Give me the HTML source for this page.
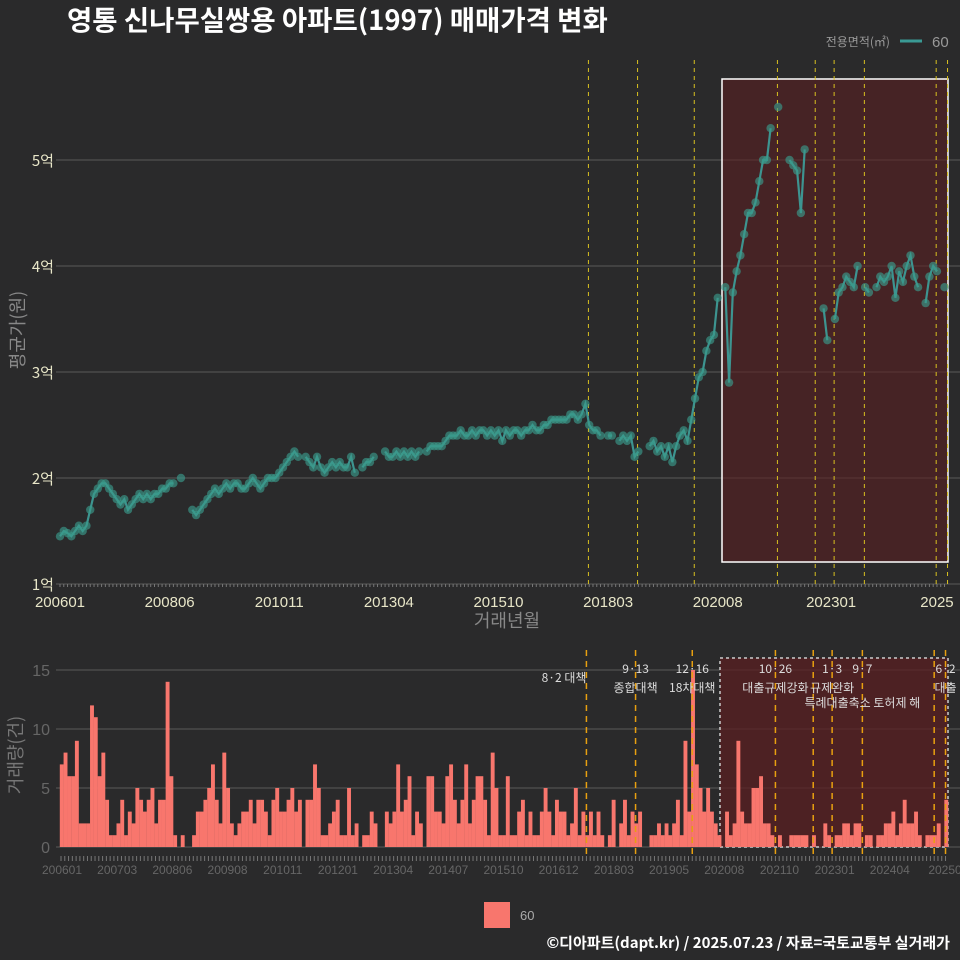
<!DOCTYPE html>
<html><head><meta charset="utf-8">
<style>
body{margin:0;background:#2a2a2b;width:960px;height:960px;overflow:hidden;font-family:"Liberation Sans","Noto Sans CJK KR",sans-serif}
svg{display:block}
</style></head>
<body>
<svg id="c" width="960" height="960" xmlns="http://www.w3.org/2000/svg">
<rect width="960" height="960" fill="#2a2a2b"/>
<text x="67" y="30" fill="#ffffff" font-size="27.5" font-weight="bold" font-family="Noto Sans CJK KR, sans-serif">영통 신나무실쌍용 아파트(1997) 매매가격 변화</text>
<g>
<text x="890" y="46" fill="#999" font-size="12" text-anchor="end" font-family="Noto Sans CJK KR, sans-serif">전용면적(㎡)</text>
<line x1="900" y1="41" x2="922" y2="41" stroke="#3a9a94" stroke-width="3"/>
<text x="932" y="47" fill="#999" font-size="15">60</text>
</g>
<g id="topG"></g>
<g id="botG"></g>
<g>
<rect x="484" y="902" width="26" height="26" fill="#f8766d"/>
<text x="520" y="920" fill="#aaa" font-size="13">60</text>
</g>
<text x="950" y="948" fill="#fff" font-size="15" font-weight="bold" text-anchor="end" font-family="Noto Sans CJK KR, sans-serif">©디아파트(dapt.kr) / 2025.07.23 / 자료=국토교통부 실거래가</text>
</svg>
<script>
const volumes=[
7,8,6,6,9,2,2,2,12,11,6,8,
4,1,1,2,4,1,3,2,5,4,3,4,
5,2,4,4,14,6,1,0,1,0,0,1,
3,3,4,5,7,4,2,8,5,2,1,2,
3,3,4,2,4,4,3,1,4,5,3,3,
4,5,3,4,0,4,4,7,5,1,1,2,
3,4,1,1,5,1,2,0,1,1,3,2,
0,0,3,2,3,7,3,4,6,1,3,2,
0,6,6,3,3,2,6,7,4,2,4,7,
2,4,6,6,4,1,8,5,1,1,6,1,
1,3,4,1,3,1,1,3,5,3,1,4,
3,3,1,2,5,1,3,1,3,1,3,1,
0,1,4,0,2,4,1,3,2,3,0,0,
1,1,2,1,2,1,2,4,1,9,3,15,
7,5,3,5,3,2,1,0,3,1,2,9,
3,2,2,5,5,6,2,2,1,0,1,0,
0,1,1,1,1,1,0,1,0,0,2,1,
0,1,1,2,2,1,2,2,0,1,1,0,
1,1,2,2,3,1,2,4,2,2,3,1,
0,1,1,1,2,0,4];
const prices=[
1.45,1.5,1.48,1.45,1.5,1.55,1.5,1.55,1.7,1.85,1.9,1.95,
1.95,1.9,1.85,1.8,1.75,1.8,1.7,1.75,1.8,1.85,1.8,1.85,
1.8,1.85,1.85,1.9,1.9,1.95,1.95,null,2.0,null,null,1.7,
1.65,1.7,1.75,1.8,1.85,1.9,1.85,1.9,1.95,1.9,1.95,1.95,
1.9,1.9,1.95,2.0,1.95,1.9,1.95,2.0,2.0,2.0,2.05,2.1,
2.15,2.2,2.25,2.2,null,2.2,2.15,2.1,2.2,2.1,2.05,2.1,
2.15,2.1,2.15,2.1,2.1,2.2,2.05,null,2.1,2.15,2.15,2.2,
null,null,2.25,2.2,2.2,2.25,2.2,2.25,2.2,2.25,2.2,2.25,
null,2.25,2.3,2.3,2.3,2.3,2.35,2.4,2.4,2.4,2.45,2.4,
2.4,2.45,2.4,2.45,2.45,2.4,2.45,2.4,2.45,2.35,2.45,2.4,
2.45,2.45,2.4,2.45,2.45,2.5,2.45,2.45,2.5,2.5,2.55,2.55,
2.55,2.55,2.55,2.6,2.6,2.55,2.6,2.7,2.5,2.45,2.45,2.4,
null,2.4,2.4,null,2.35,2.4,2.35,2.4,2.2,2.25,null,null,
2.3,2.35,2.25,2.3,2.2,2.3,2.15,2.3,2.4,2.45,2.35,2.55,
2.75,2.95,3.0,3.2,3.3,3.35,3.7,null,3.8,2.9,3.75,3.95,
4.1,4.3,4.5,4.5,4.6,4.8,5.0,5.0,5.3,null,5.5,null,
null,5.0,4.95,4.9,4.5,5.1,null,null,null,null,3.6,3.3,
null,3.5,3.75,3.8,3.9,3.85,3.8,4.0,null,3.8,3.75,null,
3.8,3.9,3.85,3.9,4.0,3.7,3.95,3.85,4.0,4.1,3.9,3.8,
null,3.65,3.9,4.0,3.95,null,3.8];
const topTicks=["200601","200806","201011","201304","201510","201803","202008","202301","2025"];
const topTickIdx=[0,29,58,87,116,145,174,204,232];
const botTicks=["200601","200703","200806","200908","201011","201201","201304","201407","201510","201612","201803","201905","202008","202110","202301","202404","20250"];
const yTicksTop=[1,2,3,4,5];
const yTicksBot=[0,5,10,15];
const policyIdx=[139,152,167,189,199,204,212,231,234];
const policyTop=["8·2 대책","9·13","12·16","10·26","","1·3","9·7","","6·2"];
const policyBot=["","종합대책","18차대책","대출규제강화","","규제완화","특례대출축소 토허제 해","","대출"];

const NS="http://www.w3.org/2000/svg";
function mk(p,t,a){const e=document.createElementNS(NS,t);for(const k in a)e.setAttribute(k,a[k]);p.appendChild(e);return e;}
const x=i=>60+i*3.78;
const yT=v=>584-(v-1)*106;
const yB=v=>847-v*11.8;
const topG=document.getElementById('topG'),botG=document.getElementById('botG');
const KF="Noto Sans CJK KR, sans-serif";

yTicksTop.forEach(v=>{
 const l=mk(topG,'line',{x1:56,x2:960,y1:yT(v),y2:yT(v),stroke:'#5a5a5a','stroke-width':1});
 
 
 const t=mk(topG,'text',{x:54,y:yT(v)+6,fill:'#e8e6c8','font-size':15,'text-anchor':'end','font-family':KF});
 t.textContent=v+'억';
 
 
});
let r=mk(topG,'rect',{x:722,y:79,width:226,height:483,fill:'#5a1f22','fill-opacity':0.6,stroke:'#fff','stroke-width':1.5});


policyIdx.forEach(i=>{
 const l=mk(topG,'line',{x1:x(i)+3,x2:x(i)+3,y1:60,y2:584,stroke:'#d8c020','stroke-width':1,'stroke-dasharray':'4,4'});
 
 
});
for(let i=0;i<235;i++){const l=mk(topG,'line',{x1:x(i),x2:x(i),y1:584,y2:587,stroke:'#777','stroke-width':1});
 
 }
topTicks.forEach((s,k)=>{const t=mk(topG,'text',{x:x(topTickIdx[k]),y:607,fill:'#e8e6c8','font-size':15,'text-anchor':'middle'});
 t.textContent=s;
 
 });
let t=mk(topG,'text',{x:507,y:627,fill:'#888','font-size':18,'text-anchor':'middle','font-family':KF});t.textContent='거래년월';


t=mk(topG,'text',{x:0,y:0,fill:'#888','font-size':18,'text-anchor':'middle','font-family':KF,transform:'translate(24,330) rotate(-90)'});t.textContent='평균가(원)';


let d='',pen=false;
prices.forEach((v,i)=>{if(v==null){pen=false;return;}d+=(pen?'L':'M')+x(i).toFixed(1)+','+yT(v).toFixed(1);pen=true;});
const pl=mk(topG,'path',{d:d,fill:'none',stroke:'#3d9490','stroke-width':2.2});


prices.forEach((v,i)=>{if(v==null)return;const c=mk(topG,'circle',{cx:x(i),cy:yT(v),r:4.2,fill:'#3a9a8a','fill-opacity':0.65});
 
 });

yTicksBot.forEach(v=>{
 const l=mk(botG,'line',{x1:56,x2:960,y1:yB(v),y2:yB(v),stroke:'#5a5a5a','stroke-width':1});
 
 
 const t=mk(botG,'text',{x:50,y:yB(v)+6,fill:'#666','font-size':16,'text-anchor':'end'});
 t.textContent=v;
 
 
});
r=mk(botG,'rect',{x:720,y:658,width:228,height:189,fill:'#5a1f22','fill-opacity':0.75,stroke:'#ccc','stroke-width':1.5,'stroke-dasharray':'3,3'});


volumes.forEach((v,i)=>{if(!v)return;const b=mk(botG,'rect',{x:x(i)-0.2,y:yB(v),width:3.9,height:v*11.8,fill:'#f8766d'});
 
 });
policyIdx.forEach((i,k)=>{
 const l=mk(botG,'line',{x1:x(i)+1,x2:x(i)+1,y1:650,y2:857,stroke:'#e8a010','stroke-width':1.5,'stroke-dasharray':'6,5'});
 
 
 if(policyTop[k]){const t=mk(botG,'text',{x:x(i)+1,y:k==0?682:673,fill:'#ddd','font-size':12,'text-anchor':k==0?'end':'middle','font-family':KF});
  t.textContent=policyTop[k];
  
  }
 if(policyBot[k]){const t=mk(botG,'text',{x:x(i)+1,y:k==6?707:692,fill:'#ddd','font-size':12,'text-anchor':'middle','font-family':KF});
  t.textContent=policyBot[k];
  
  }
});
for(let i=0;i<235;i++){const l=mk(botG,'line',{x1:x(i)+1,x2:x(i)+1,y1:856,y2:861,stroke:'#777','stroke-width':1});
 
 }
botTicks.forEach((s,k)=>{const t=mk(botG,'text',{x:x(k*14.6)+2,y:874,fill:'#666','font-size':12,'text-anchor':'middle'});
 t.textContent=s;
 
 });
t=mk(botG,'text',{x:0,y:0,fill:'#777','font-size':18,'text-anchor':'middle','font-family':KF,transform:'translate(22,755) rotate(-90)'});t.textContent='거래량(건)';


</script>
</body></html>
